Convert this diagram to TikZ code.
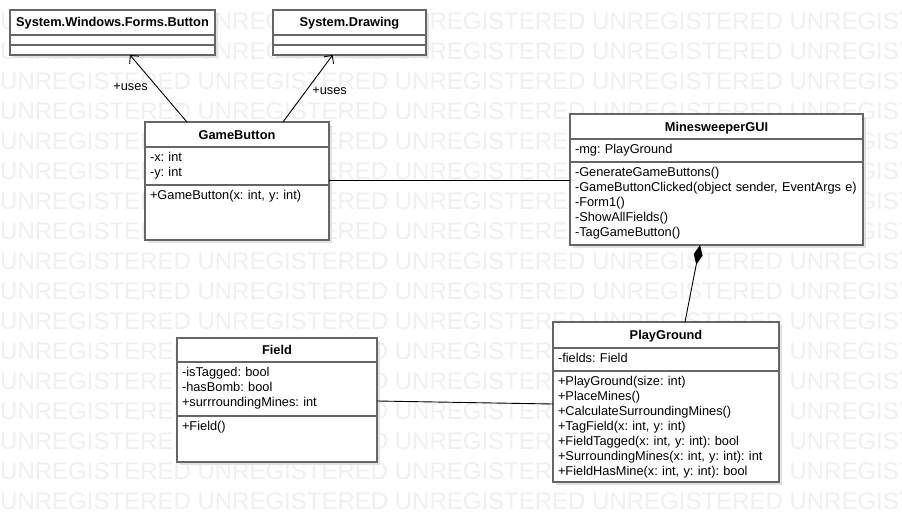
\documentclass[tikz,border=0pt]{standalone}
\usepackage{fontspec}
\setmainfont{Liberation Sans}
\usepackage{tikz}
\usetikzlibrary{arrows.meta,positioning,calc,shadows}
\definecolor{BoxGray}{HTML}{666666}
\definecolor{ShadowGray}{HTML}{E2E2E2}
\definecolor{MarkGray}{HTML}{F0F0F0}
\newcommand{\umlfont}{\fontsize{12.8}{15}\selectfont}
\newcommand{\markfont}{\fontsize{24}{24}\selectfont}
\frenchspacing

\begin{document}
\begin{tikzpicture}[x=1pt,y=-1pt,
shd/.style={drop shadow={shadow xshift=3pt,shadow yshift=-3pt,fill=ShadowGray,opacity=1}},
hdr/.style={shd,draw=BoxGray,line width=1.2pt,fill=white,outer sep=0pt,inner sep=0pt,font=\umlfont\bfseries,text height=9pt,text depth=0pt,anchor=north west},
cpart/.style={shd,draw=BoxGray,line width=1.2pt,fill=white,outer sep=0pt,inner xsep=5pt,inner ysep=0pt,font=\umlfont,align=left,text height=14.5pt},
blank/.style={cpart,text height=0pt,text depth=0pt,minimum height=10pt},
assoc/.style={line width=0.9pt},
usesarr/.style={-{Straight Barb[length=6pt,width=12pt]},line width=0.9pt},
comp/.style={{Diamond[length=20pt,width=9pt]}-,line width=0.9pt},
lbl/.style={font=\umlfont,inner sep=0pt},
wmark/.style={anchor=west,inner sep=0pt,font=\markfont,text=MarkGray}
]
\fill[white] (0,0) rectangle (902,522);
\useasboundingbox (0,0) rectangle (902,522);

% watermark rows
\foreach \r in {0,...,16}
  \node[wmark] (wm\r) at (0,{21.5+30*\r}) {UNREGISTERED UNREGISTERED UNREGISTERED UNREGISTERED UNREGISTERED};

% library classes
\node[hdr,minimum width=205pt,minimum height=25pt] (btnh) at (10,10) {System.Windows.Forms.Button};
\node[blank,minimum width=205pt,below=0pt of btnh] (btna) {};
\node[blank,minimum width=205pt,below=0pt of btna] (btnm) {};

\node[hdr,minimum width=153pt,minimum height=25pt] (drwh) at (273,10) {System.Drawing};
\node[blank,minimum width=153pt,below=0pt of drwh] (drwa) {};
\node[blank,minimum width=153pt,below=0pt of drwa] (drwm) {};

% GameButton
\node[hdr,minimum width=184pt,minimum height=25pt] (gbh) at (145,122) {GameButton};
\node[cpart,text width=174pt,text depth=23.5pt,below=0pt of gbh] (gba) {-x: int\\-y: int};
\node[cpart,text width=174pt,text depth=40.5pt,below=0pt of gba] (gbm) {+GameButton(x: int, y: int)};

% MinesweeperGUI
\node[hdr,minimum width=293pt,minimum height=25pt] (guih) at (570,114) {MinesweeperGUI};
\node[cpart,text width=283pt,text depth=8.5pt,below=0pt of guih] (guia) {-mg: PlayGround};
\node[cpart,text width=283pt,text depth=68.5pt,below=0pt of guia] (guim) {-GenerateGameButtons()\\-GameButtonClicked(object sender, EventArgs e)\\-Form1()\\-ShowAllFields()\\-TagGameButton()};

% Field
\node[hdr,minimum width=200pt,minimum height=24pt] (fldh) at (177,338) {Field};
\node[cpart,text width=190pt,text depth=39.5pt,below=0pt of fldh] (flda) {-isTagged: bool\\-hasBomb: bool\\+surrroundingMines: int};
\node[cpart,text width=190pt,text depth=31.5pt,below=0pt of flda] (fldm) {+Field()};

% PlayGround
\node[hdr,minimum width=226pt,minimum height=26pt] (pgh) at (553,322) {PlayGround};
\node[cpart,text width=216pt,text depth=8.5pt,below=0pt of pgh] (pga) {-fields: Field};
\node[cpart,text width=216pt,text depth=96.5pt,below=0pt of pga] (pgm) {+PlayGround(size: int)\\+PlaceMines()\\+CalculateSurroundingMines()\\+TagField(x: int, y: int)\\+FieldTagged(x: int, y: int): bool\\+SurroundingMines(x: int, y: int): int\\+FieldHasMine(x: int, y: int): bool};

% relations
\draw[usesarr] ($(gbh.north west)!0.228!(gbh.north east)$) -- ($(btnm.south west)!0.585!(btnm.south east)$)
  node[lbl,pos=0.52,left=9pt] (use1) {+uses};
\draw[usesarr] ($(gbh.north west)!0.75!(gbh.north east)$) -- ($(drwm.south west)!0.39!(drwm.south east)$)
  node[lbl,pos=0.46,right=6pt] (use2) {+uses};
\draw[assoc] ($(gba.south east)+(0,-5)$) coordinate (a1) -- (a1 -| guim.west);
\draw[comp] ($(guim.south west)!0.444!(guim.south east)$) -- ($(pgh.north west)!0.584!(pgh.north east)$);
\draw[assoc] ($(flda.south east)+(0,-15)$) -- ($(pgm.north west)+(0,33)$);
\end{tikzpicture}
\end{document}
